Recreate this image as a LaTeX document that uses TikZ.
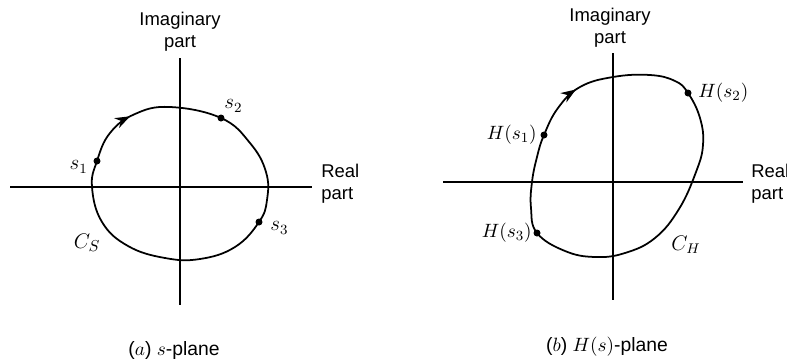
\documentclass[tikz,border=0pt]{standalone}
\usepackage{fontspec}
\setsansfont{Liberation Sans}
\usetikzlibrary{arrows.meta,decorations.markings}

\tikzset{
  axisline/.style={line width=0.7pt},
  contour/.style={line width=1pt, smooth cycle, tension=0.7},
  dotpt/.style={circle, fill, inner sep=0pt, minimum size=1.4mm},
  axislabel/.style={font=\sffamily\fontsize{10.5}{12.6}\selectfont, align=center, inner sep=0pt},
  ptlabel/.style={inner sep=0pt, font=\fontsize{12}{14}\selectfont},
  hlabel/.style={inner sep=0pt, font=\fontsize{11}{13}\selectfont},
  caption/.style={font=\sffamily\fontsize{11}{13}\selectfont, inner sep=0pt},
  arrowat/.style={decoration={markings, mark=at position #1 with {\arrow{Stealth[length=3mm,width=2.2mm]}}}, postaction={decorate}}
}

\begin{document}
\begin{tikzpicture}[x=0.2mm, y=-0.2mm]
    \useasboundingbox (0,0) rectangle (787,361);

    % (a) s-plane: axes
    \coordinate (imA-top) at (180,58);
    \coordinate (imA-bot) at (180,305);
    \coordinate (reA-left) at (10,187);
    \coordinate (reA-right) at (312,187);
    \draw[axisline] (imA-top) -- (imA-bot);
    \draw[axisline] (reA-left) -- (reA-right);
    \node[axislabel] (imA) at (180,32) {Imaginary\\part};
    \node[axislabel, align=left, anchor=west] (reA) at (321,184) {Real\\part};

    % contour C_S
    \draw[contour, arrowat=0.11] plot coordinates {
      (92,187) (97,161) (110,133) (135,114) (170,107) (221,118) (250,143)
      (266,172) (267,200) (259,222) (235,247) (200,259) (165,258) (128,246)
      (102,222)};
    \node[dotpt] (s1) at (97,161) {};
    \node[dotpt] (s2) at (221,118) {};
    \node[dotpt] (s3) at (259,222) {};
    \node[ptlabel, anchor=east] (s1lbl) at ([xshift=-1.8mm, yshift=-1.2mm]s1.center) {$s_1$};
    \node[ptlabel, anchor=west] (s2lbl) at ([xshift=0.6mm, yshift=2.4mm]s2.center) {$s_2$};
    \node[ptlabel, anchor=west] (s3lbl) at ([xshift=2.2mm, yshift=-1.2mm]s3.center) {$s_3$};
    \node[ptlabel, font=\fontsize{13}{15}\selectfont] (CS) at (87,243) {$C_S$};

    \node[caption] (capA) at (174,350) {($a$) $s$-plane};

    % (b) H(s)-plane: axes
    \coordinate (imB-top) at (613,53);
    \coordinate (imB-bot) at (613,300);
    \coordinate (reB-left) at (443,182);
    \coordinate (reB-right) at (743,182);
    \draw[axisline] (imB-top) -- (imB-bot);
    \draw[axisline] (reB-left) -- (reB-right);
    \node[axislabel] (imB) at (610,28) {Imaginary\\part};
    \node[axislabel, align=left, anchor=west] (reB) at (751,184) {Real\\part};

    % contour C_H
    \draw[contour, arrowat=0.14] plot coordinates {
      (532,182) (537,157) (544,135) (558,108) (580,87) (613,77) (650,75)
      (675,81) (688,93) (700,118) (703,145) (696,172) (679,209) (655,238)
      (625,253) (595,257) (565,251) (537,233) (531,208)};
    \node[dotpt] (h1) at (544,135) {};
    \node[dotpt] (h2) at (688,93) {};
    \node[dotpt] (h3) at (537,233) {};
    \node[hlabel, anchor=east] (h1lbl) at ([xshift=-1.4mm]h1.center) {$H(s_1)$};
    \node[hlabel, anchor=west] (h2lbl) at ([xshift=2mm]h2.center) {$H(s_2)$};
    \node[hlabel, anchor=east] (h3lbl) at ([xshift=-1mm]h3.center) {$H(s_3)$};
    \node[hlabel, font=\fontsize{12}{14}\selectfont] (CH) at (686,245) {$C_H$};

    \node[caption] (capB) at (607,347) {($b$) $H(s)$-plane};

\end{tikzpicture}
\end{document}
